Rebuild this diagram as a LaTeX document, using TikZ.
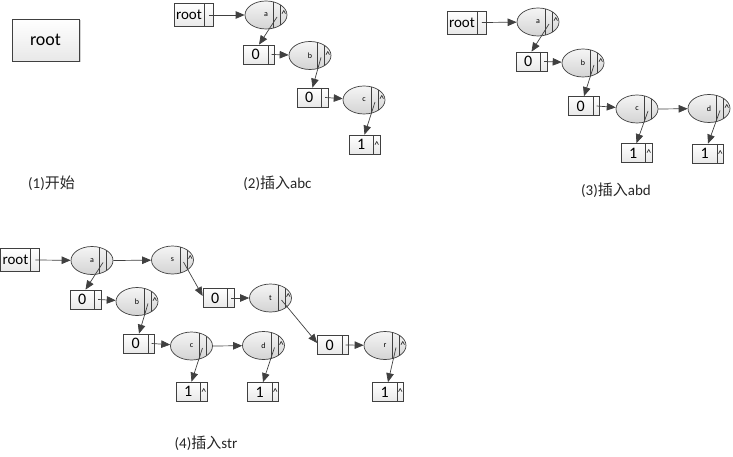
\documentclass[tikz,border=0pt]{standalone}
\usepackage{fontspec}
\setmainfont{Carlito}
\newfontfamily\cjk{Noto Sans CJK SC}
\usetikzlibrary{shapes.geometric,arrows.meta,shadows}
\colorlet{linec}{black!75}
\colorlet{fillc}{black!17}
\colorlet{boxc}{black!9}
\tikzstyle{trie} = [
  ellipse,
  draw=linec,
  line width=0.7pt,
  top color=black!4,
  bottom color=fillc,
  minimum width=42pt,
  minimum height=28pt,
  inner sep=0pt,
  font=\fontsize{8}{8}\selectfont,
  path picture={
    \draw[linec,line width=0.7pt] ([xshift=7.5pt]path picture bounding box.north)
      -- ([xshift=7.5pt]path picture bounding box.south);
    \draw[linec,line width=0.7pt] ([xshift=14.5pt]path picture bounding box.north)
      -- ([xshift=14.5pt]path picture bounding box.south);
  },
]
\tikzstyle{hat} = [font=\fontsize{10}{10}\selectfont, inner sep=0pt]
\tikzstyle{nosib} = [label={[hat,xshift=17.8pt,yshift=0.5pt]center:\textasciicircum}]
\tikzstyle{cell} = [
  rectangle,
  draw=linec,
  line width=0.7pt,
  top color=white,
  bottom color=boxc,
  minimum width=31pt,
  minimum height=19pt,
  inner sep=0pt,
  font=\fontsize{16}{16}\selectfont,
  path picture={
    \draw[linec,line width=0.7pt] ([xshift=-6.5pt]path picture bounding box.north east)
      -- ([xshift=-6.5pt]path picture bounding box.south east);
  },
]
\tikzstyle{leaf} = [cell, label={[hat,xshift=12.3pt,yshift=-0.5pt]center:\textasciicircum}]
\tikzstyle{rootbox} = [
  cell,
  minimum width=39pt,
  minimum height=23pt,
  font=\fontsize{15}{15}\selectfont,
  path picture={
    \draw[linec,line width=0.7pt] ([xshift=-9pt]path picture bounding box.north east)
      -- ([xshift=-9pt]path picture bounding box.south east);
  },
]
\tikzstyle{bigroot} = [
  rectangle,
  draw=linec,
  line width=0.8pt,
  top color=white,
  bottom color=boxc,
  minimum width=67pt,
  minimum height=42pt,
  font=\fontsize{18}{18}\selectfont,
  drop shadow={shadow xshift=1.5pt,shadow yshift=-1.5pt,opacity=0.35},
]
\tikzstyle{link} = [draw=linec, line width=0.7pt, -{Triangle[length=9pt,width=7.5pt]}]
\tikzstyle{caption} = [font=\fontsize{15}{15}\selectfont, text=black!85]

\begin{document}
\begin{tikzpicture}[x=1pt,y=-1pt]
      \useasboundingbox (0,0) rectangle (733,457);

      % (1)
      \node[bigroot] (root1) at (45.5,40) {root};
      \node[caption] (cap1) at (51.5,183) {(1){\cjk 开始}};

      % (2) abc
      \node[rootbox] (root2) at (193.5,15) {root\hspace*{9pt}};
      \node[trie,nosib] (a2) at (266,15) {a};
      \node[cell] (z2a) at (259,54.5) {0\hspace*{6.5pt}};
      \node[trie,nosib] (b2) at (310,55.5) {b};
      \node[cell] (z2b) at (312.5,97.5) {0\hspace*{6.5pt}};
      \node[trie,nosib] (c2) at (364,100) {c};
      \node[leaf] (o2) at (364.5,144.5) {1\hspace*{6.5pt}};
      \node[caption] (cap2) at (277.5,183) {(2){\cjk 插入}abc};

      \draw[link] ([xshift=-4.5pt]root2.east) -- (a2);
      \draw[link] ([xshift=11pt,yshift=-2pt]a2.center) -- (z2a.north);
      \draw[link] ([xshift=-3.2pt]z2a.east) -- (b2);
      \draw[link] ([xshift=11pt,yshift=-2pt]b2.center) -- (z2b.north);
      \draw[link] ([xshift=-3.2pt]z2b.east) -- (c2);
      \draw[link] ([xshift=11pt,yshift=-2pt]c2.center) -- (o2.north);

      % (3) abd
      \node[rootbox] (root3) at (466.5,22.5) {root\hspace*{9pt}};
      \node[trie,nosib] (a3) at (538,22) {a};
      \node[cell] (z3a) at (531.5,61.5) {0\hspace*{6.5pt}};
      \node[trie,nosib] (b3) at (583,63) {b};
      \node[cell] (z3b) at (584,106) {0\hspace*{6.5pt}};
      \node[trie] (c3) at (637,109) {c};
      \node[trie,nosib] (d3) at (709,108.5) {d};
      \node[leaf] (o3c) at (636.5,153) {1\hspace*{6.5pt}};
      \node[leaf] (o3d) at (708,153.5) {1\hspace*{6.5pt}};
      \node[caption] (cap3) at (616,190) {(3){\cjk 插入}abd};

      \draw[link] ([xshift=-4.5pt]root3.east) -- (a3);
      \draw[link] ([xshift=11pt,yshift=-2pt]a3.center) -- (z3a.north);
      \draw[link] ([xshift=-3.2pt]z3a.east) -- (b3);
      \draw[link] ([xshift=11pt,yshift=-2pt]b3.center) -- (z3b.north);
      \draw[link] ([xshift=-3.2pt]z3b.east) -- (c3);
      \draw[link] (c3.east) -- (d3);
      \draw[link] ([xshift=11pt,yshift=-2pt]c3.center) -- (o3c.north);
      \draw[link] ([xshift=11pt,yshift=-2pt]d3.center) -- (o3d.north);

      % (4) str
      \node[rootbox] (root4) at (20,260) {root\hspace*{9pt}};
      \node[trie] (a4) at (92,260.5) {a};
      \node[trie,nosib] (s4) at (172.5,260) {s};
      \node[cell] (z4a) at (85.5,299.5) {0\hspace*{6.5pt}};
      \node[trie,nosib] (b4) at (137,301.5) {b};
      \node[cell] (z4s) at (218.5,298) {0\hspace*{6.5pt}};
      \node[trie,nosib] (t4) at (270.5,298) {t};
      \node[cell] (z4b) at (139,343.5) {0\hspace*{6.5pt}};
      \node[trie] (c4) at (191.5,346) {c};
      \node[trie,nosib] (d4) at (263.5,345.5) {d};
      \node[cell] (z4t) at (333,345) {0\hspace*{6.5pt}};
      \node[trie,nosib] (r4) at (385,345.5) {r};
      \node[leaf] (o4c) at (191.5,391.5) {1\hspace*{6.5pt}};
      \node[leaf] (o4d) at (263,392) {1\hspace*{6.5pt}};
      \node[leaf] (o4r) at (388,392) {1\hspace*{6.5pt}};
      \node[caption] (cap4) at (206,443) {(4){\cjk 插入}str};

      \draw[link] ([xshift=-4.5pt]root4.east) -- (a4);
      \draw[link] (a4.east) -- (s4);
      \draw[link] ([xshift=11pt,yshift=-2pt]a4.center) -- (z4a.north);
      \draw[link] ([xshift=-3.2pt]z4a.east) -- (b4);
      \draw[link] ([xshift=11pt,yshift=-2pt]s4.center) -- ([yshift=2pt]z4s.west);
      \draw[link] ([xshift=-3.2pt]z4s.east) -- (t4);
      \draw[link] ([xshift=11pt,yshift=-2pt]b4.center) -- (z4b.north);
      \draw[link] ([xshift=-3.2pt]z4b.east) -- (c4);
      \draw[link] (c4.east) -- (d4);
      \draw[link] ([xshift=11pt,yshift=-2pt]t4.center) -- ([yshift=2pt]z4t.west);
      \draw[link] ([xshift=-3.2pt]z4t.east) -- (r4);
      \draw[link] ([xshift=11pt,yshift=-2pt]c4.center) -- (o4c.north);
      \draw[link] ([xshift=11pt,yshift=-2pt]d4.center) -- (o4d.north);
      \draw[link] ([xshift=11pt,yshift=-2pt]r4.center) -- (o4r.north);
    \end{tikzpicture}
\end{document}
